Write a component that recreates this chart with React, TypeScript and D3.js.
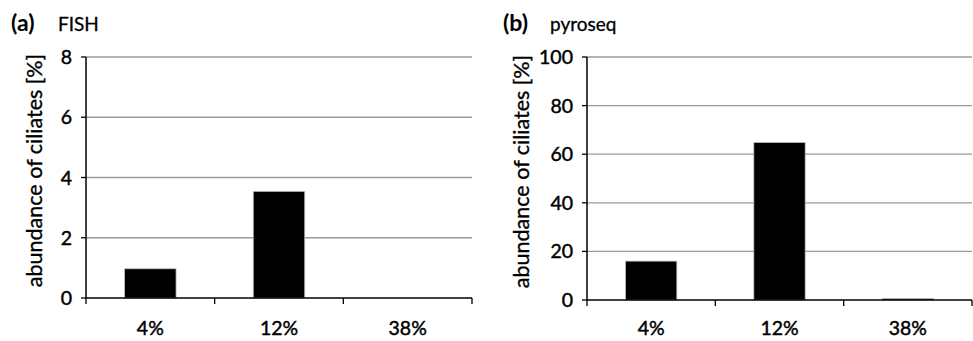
import * as React from "react";
import * as d3 from "d3";

const categories = ["4%", "12%", "38%"];
const fishValues = [0.97, 3.54, 0];
const pyroValues = [16, 64.8, 0.6];
const fishTicks = [0, 2, 4, 6, 8];
const pyroTicks = [0, 20, 40, 60, 80, 100];

const font = "Lato, 'Open Sans', sans-serif";
// Lato regular is a touch thinner than the original, so thicken a little
const heavy = { fontFamily: font, stroke: "#000", strokeWidth: 0.45 };

const Panel = props => {
  const { letter, name, values, ticks, yMax, left, right, top, bottom, titleX, labelX } = props;

  const x = d3.scaleBand().domain(categories).range([left, right]).paddingInner(0.6).paddingOuter(0.3);
  const xEdges = d3.scaleBand().domain(categories).range([left, right]).padding(0);
  const y = d3.scaleLinear().domain([0, yMax]).range([bottom, top]);

  return (
    <g>
      <text x={titleX} y={31} fontFamily={font} fontSize={23} fontWeight="bold">{letter}</text>
      <text x={titleX + 47} y={31} fontSize={19} {...heavy} strokeWidth={0.3}>{name}</text>

      {ticks.map(t => (
        <g key={t}>
          {t > 0 && <line x1={left} x2={right} y1={y(t)} y2={y(t)} stroke="#9a9a9a" strokeWidth={1.3} />}
          <line x1={left - 5} x2={left} y1={y(t)} y2={y(t)} stroke="#000" strokeWidth={1.3} />
          <text x={left - 14} y={y(t)} dy="0.36em" textAnchor="end" fontSize={19.5} {...heavy}>{t}</text>
        </g>
      ))}

      {values.map((v, i) => (
        <rect key={i} x={x(categories[i])} y={y(v)} width={x.bandwidth()} height={bottom - y(v)}
          fill="#000" stroke="#bbb" strokeWidth={0.8} />
      ))}

      <line x1={left} x2={left} y1={top} y2={bottom} stroke="#000" strokeWidth={1.5} />
      <line x1={left} x2={right} y1={bottom} y2={bottom} stroke="#000" strokeWidth={1.5} />
      {categories.map(c => (
        <line key={c} x1={xEdges(c) + xEdges.bandwidth()} x2={xEdges(c) + xEdges.bandwidth()}
          y1={bottom} y2={bottom + 6} stroke="#000" strokeWidth={1.3} />
      ))}
      <line x1={left} x2={left} y1={bottom} y2={bottom + 6} stroke="#000" strokeWidth={1.3} />

      {categories.map(c => (
        <text key={c} x={x(c) + x.bandwidth() / 2} y={335} textAnchor="middle" fontSize={19.5} {...heavy}>{c}</text>
      ))}

      <text transform={`translate(${labelX},${(top + bottom) / 2 - 7}) rotate(-90)`} textAnchor="middle"
        fontSize={21.5} {...heavy} strokeWidth={0.35}>abundance of ciliates [%]</text>
    </g>
  );
};

export default function App() {
  return (
    <svg width={973} height={341} style={{ position: "absolute", left: 0, top: 0, background: "#fff" }}>
      <Panel letter="(a)" name="FISH" values={fishValues} ticks={fishTicks} yMax={8}
        left={86} right={472} top={57} bottom={298} titleX={11} labelX={42} />
      <Panel letter="(b)" name="pyroseq" values={pyroValues} ticks={pyroTicks} yMax={100}
        left={587} right={972} top={57} bottom={300} titleX={503} labelX={529} />
    </svg>
  );
}
